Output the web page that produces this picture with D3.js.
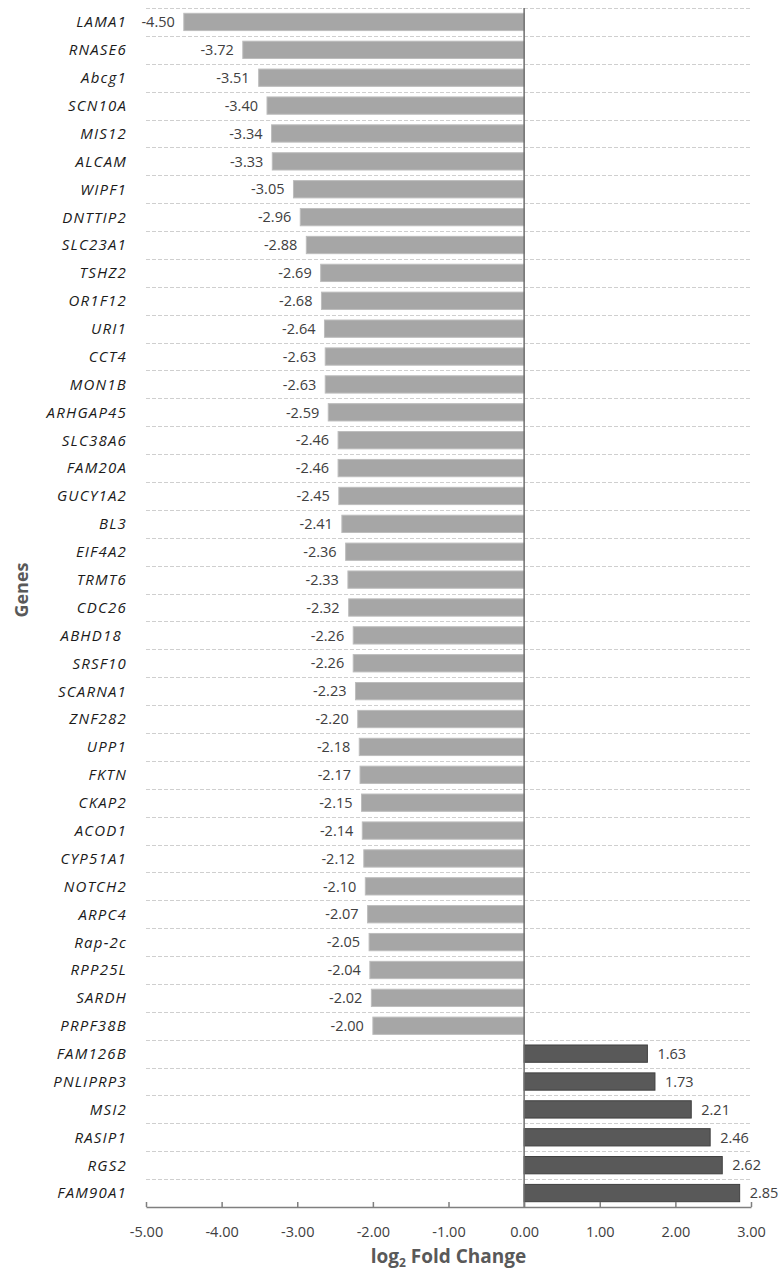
<!DOCTYPE html>
<html>
<head>
<meta charset="utf-8">
<script src="https://cdn.jsdelivr.net/npm/d3@7"></script>
<style>
  html, body { margin: 0; padding: 0; background: #fff; }
  svg { display: block; }
  text { font-family: "Open Sans", "Liberation Sans", sans-serif; }
</style>
</head>
<body>
<svg id="chart" width="784" height="1274"></svg>
<script>
// Differentially expressed genes, top to bottom
const genes = [
  "LAMA1", "RNASE6", "Abcg1", "SCN10A", "MIS12", "ALCAM", "WIPF1", "DNTTIP2",
  "SLC23A1", "TSHZ2", "OR1F12", "URI1", "CCT4", "MON1B", "ARHGAP45", "SLC38A6",
  "FAM20A", "GUCY1A2", "BL3", "EIF4A2", "TRMT6", "CDC26", "ABHD18\u00a0", "SRSF10",
  "SCARNA1", "ZNF282", "UPP1", "FKTN", "CKAP2", "ACOD1", "CYP51A1", "NOTCH2",
  "ARPC4", "Rap-2c", "RPP25L", "SARDH", "PRPF38B",
  "FAM126B", "PNLIPRP3", "MSI2", "RASIP1", "RGS2", "FAM90A1"
];
// log2 fold change per gene
const log2FC = [
  -4.50, -3.72, -3.51, -3.40, -3.34, -3.33, -3.05, -2.96,
  -2.88, -2.69, -2.68, -2.64, -2.63, -2.63, -2.59, -2.46,
  -2.46, -2.45, -2.41, -2.36, -2.33, -2.32, -2.26, -2.26,
  -2.23, -2.20, -2.18, -2.17, -2.15, -2.14, -2.12, -2.10,
  -2.07, -2.05, -2.04, -2.02, -2.00,
  1.63, 1.73, 2.21, 2.46, 2.62, 2.85
];
const xTicks = [-5, -4, -3, -2, -1, 0, 1, 2, 3];

const rows = genes.map((g, i) => ({ gene: g, value: log2FC[i], key: i }));

// two-decimal format with a plain hyphen for negatives
const fmt = d3.formatLocale({ decimal: ".", thousands: ",", grouping: [3], currency: ["", ""], minus: "-" }).format(".2f");

const margin = { top: 8, left: 146, right: 33, bottom: 67 };
const W = 784, H = 1274;
const innerW = W - margin.left - margin.right;
const innerH = H - margin.top - margin.bottom;

const svg = d3.select("#chart");
const g = svg.append("g").attr("transform", `translate(${margin.left},${margin.top})`);

const x = d3.scaleLinear().domain([-5, 3]).range([0, innerW]);
const y = d3.scaleBand().domain(rows.map(d => d.key)).range([0, innerH]).paddingInner(0.38).paddingOuter(0.19);
const step = y.step();

// dashed row separators
const bounds = d3.range(rows.length).map(i => y(i) - y.paddingInner() * step / 2);
g.append("g").selectAll("line").data(bounds).join("line")
  .attr("x1", 0).attr("x2", innerW)
  .attr("y1", d => Math.round(d) + 0.5).attr("y2", d => Math.round(d) + 0.5)
  .attr("stroke", "#cfcfcf").attr("stroke-width", 1).attr("stroke-dasharray", "4,2");

// bars
g.append("g").selectAll("rect").data(rows).join("rect")
  .attr("x", d => x(Math.min(0, d.value)))
  .attr("width", d => Math.abs(x(d.value) - x(0)))
  .attr("y", d => y(d.key))
  .attr("height", y.bandwidth())
  .attr("fill", d => d.value < 0 ? "#a6a6a6" : "#595959")
  .attr("stroke", d => d.value < 0 ? "#bdbdbd" : "#404040")
  .attr("stroke-width", 1);

// value labels
g.append("g").selectAll("text").data(rows).join("text")
  .attr("x", d => d.value < 0 ? x(d.value) - 9 : x(d.value) + 10)
  .attr("y", d => y(d.key) + y.bandwidth() / 2)
  .attr("dy", "0.36em")
  .attr("text-anchor", d => d.value < 0 ? "end" : "start")
  .attr("font-size", 14.5)
  .attr("fill", "#404040")
  .text(d => fmt(d.value));

// gene labels
g.append("g").selectAll("text").data(rows).join("text")
  .attr("x", -19)
  .attr("y", d => y(d.key) + y.bandwidth() / 2)
  .attr("dy", "0.36em")
  .attr("text-anchor", "end")
  .attr("font-size", 15)
  .attr("letter-spacing", 1.2)
  .attr("font-style", "italic")
  .attr("fill", "#1a1a1a")
  .text(d => d.gene);

// zero line
g.append("line")
  .attr("x1", x(0)).attr("x2", x(0))
  .attr("y1", 0).attr("y2", innerH)
  .attr("stroke", "#6e6e6e").attr("stroke-width", 1.5);

// x axis with inward ticks
const xAxis = g.append("g").attr("transform", `translate(0,${innerH})`)
  .call(d3.axisBottom(x).tickValues(xTicks).tickFormat(fmt).tickSizeInner(-5).tickSizeOuter(0).tickPadding(20));
xAxis.select(".domain").attr("stroke", "#7f7f7f").attr("stroke-width", 1.5);
xAxis.selectAll(".tick line").attr("stroke", "#7f7f7f").attr("stroke-width", 1.5);
xAxis.selectAll(".tick text").attr("font-size", 14.5).attr("fill", "#404040")
  .attr("font-family", "\"Open Sans\", sans-serif");

// axis titles
const title = svg.append("text")
  .attr("x", margin.left + innerW / 2)
  .attr("y", 1263)
  .attr("text-anchor", "middle")
  .attr("font-size", 19)
  .attr("font-weight", "bold")
  .attr("fill", "#595959");
title.append("tspan").text("log");
title.append("tspan").attr("font-size", 12).attr("dy", 4).text("2");
title.append("tspan").attr("dy", -4).text(" Fold Change");

svg.append("text")
  .attr("transform", `translate(28,590) rotate(-90)`)
  .attr("text-anchor", "middle")
  .attr("font-size", 18)
  .attr("font-weight", "bold")
  .attr("fill", "#595959")
  .text("Genes");
</script>
</body>
</html>
